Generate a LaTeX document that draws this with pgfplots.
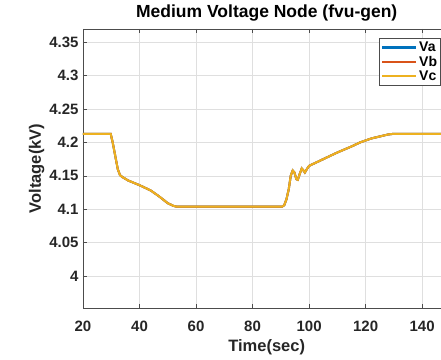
\documentclass[border=0pt]{standalone}
\usepackage{pgfplots}
\pgfplotsset{compat=1.18}
\usepackage{fontspec}
\setmainfont{Liberation Sans}
\definecolor{mA}{rgb}{0,0.447,0.741}
\definecolor{mB}{rgb}{0.85,0.325,0.098}
\definecolor{mC}{rgb}{0.929,0.694,0.125}
\pgfplotstableread{
x y
20 4.213
29.8 4.213
30.5 4.200
31.5 4.178
32.3 4.160
33.1 4.151
34 4.148
36 4.143
40 4.136
44 4.128
47 4.119
50 4.109
52 4.105
53 4.104
90.5 4.104
91.2 4.106
92 4.115
92.8 4.130
93.5 4.150
94.2 4.158
94.8 4.155
95.5 4.145
96 4.144
96.7 4.153
97.4 4.161
98 4.158
98.5 4.155
99.2 4.160
100 4.165
102 4.169
105 4.175
110 4.185
115 4.194
118 4.200
120 4.203
122 4.206
125 4.209
128 4.212
130 4.213
150 4.213
}\datatab
\begin{document}
\begin{tikzpicture}
\begin{axis}[
  scale only axis,
  width=367.4pt, height=279pt,
  xmin=20, xmax=150, ymin=3.952, ymax=4.37,
  /pgf/number format/assume math mode=true,
  xtick={20,40,60,80,100,120,140},
  xticklabels={20,40,60,80,100,120,140},
  ytick={4,4.05,4.1,4.15,4.2,4.25,4.3,4.35},
  yticklabels={4,4.05,4.1,4.15,4.2,4.25,4.3,4.35},
  grid=major,
  major grid style={gray!25, line width=0.6pt},
  axis line style={black!70, line width=0.8pt},
  tick style={black!70, line width=0.6pt},
  major tick length=4pt,
  tick label style={font=\fontsize{15}{18}\selectfont\bfseries, text=black!85},
  xticklabel style={yshift=-9pt},
  yticklabel style={xshift=-1pt},
  title={\fontsize{17.5}{20}\selectfont\bfseries Medium Voltage Node (fvu-gen)},
  title style={yshift=-2pt},
  xlabel={\fontsize{16.5}{20}\selectfont\bfseries Time(sec)},
  ylabel={\fontsize{16.5}{20}\selectfont\bfseries Voltage(kV)},
  xlabel style={text=black!85, yshift=-2pt},
  ylabel style={text=black!85, yshift=-2pt},
  legend style={at={(rel axis cs:0.9744,0.9677)}, anchor=north east,
    font=\fontsize{14}{16}\selectfont\bfseries, draw=black!70, line width=0.8pt,
    inner sep=1.5pt, row sep=-1pt, cells={anchor=west}},
  legend image code/.code={\draw[#1, line width=2.2pt] (0pt,0pt) -- (34pt,0pt);},
]
\addplot[mA, line width=2pt] table[x=x,y=y] {\datatab};
\addlegendentry{Va}
\addplot[mB, line width=2pt] table[x=x,y=y] {\datatab};
\addlegendentry{Vb}
\addplot[mC, line width=2pt] table[x=x,y=y] {\datatab};
\addlegendentry{Vc}
\coordinate (O) at (rel axis cs:0,0);
\end{axis}
\pgfresetboundingbox
\path[use as bounding box] (O) ++(-83pt,-51pt) rectangle ++(441pt,359pt);
\end{tikzpicture}
\end{document}
